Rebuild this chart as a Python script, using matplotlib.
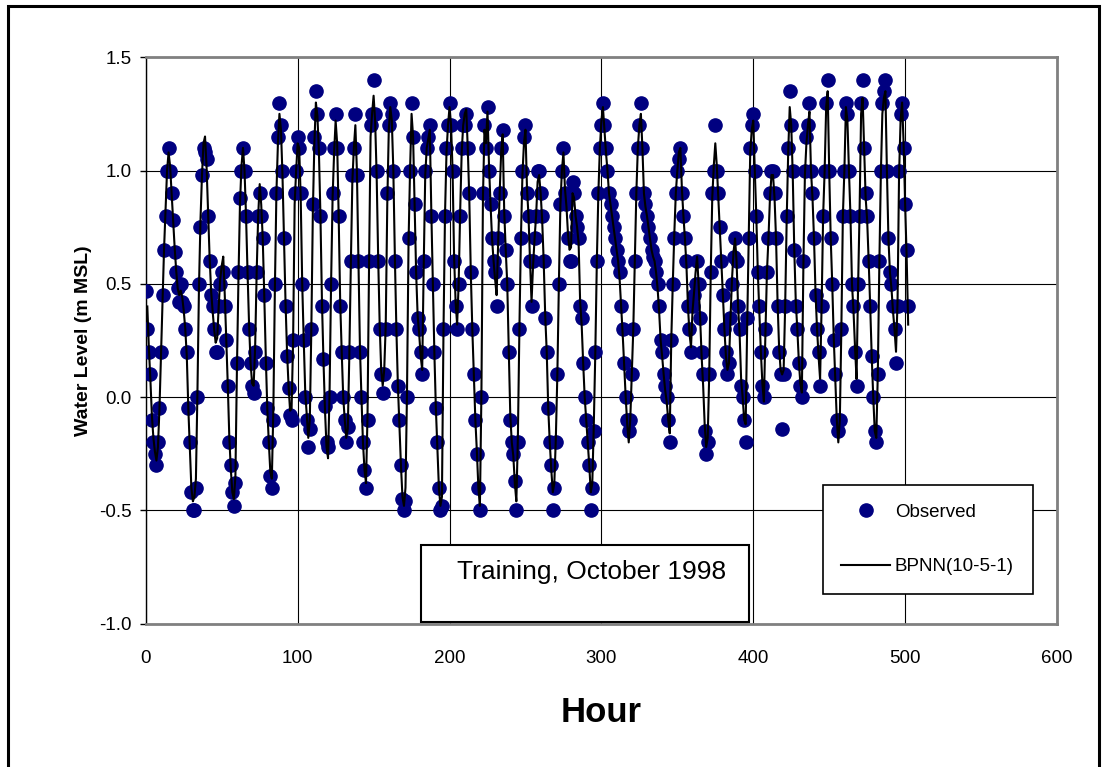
import numpy as np
import matplotlib
matplotlib.use("Agg")
import matplotlib.pyplot as plt
from matplotlib.patches import Rectangle

plt.rcParams['font.family'] = ['Liberation Sans', 'DejaVu Sans']
plt.rcParams['axes.unicode_minus'] = False

# ---------------- data ----------------
observed = [
    0.47, 0.30, 0.20, 0.10, -0.10, -0.20, -0.25, -0.30, -0.20, -0.05,
    0.20, 0.45, 0.65, 0.80, 1.00, 1.10, 1.00, 0.90, 0.78, 0.64,
    0.55, 0.48, 0.42, 0.50, 0.42, 0.40, 0.30, 0.20, -0.05, -0.20,
    -0.42, -0.50, -0.50, -0.40, 0.00, 0.50, 0.75, 0.98, 1.10, 1.08,
    1.05, 0.80, 0.60, 0.45, 0.40, 0.30, 0.20, 0.20, 0.40, 0.50,
    0.55, 0.55, 0.40, 0.25, 0.05, -0.20, -0.30, -0.42, -0.48, -0.38,
    0.15, 0.55, 0.88, 1.00, 1.10, 1.00, 0.80, 0.55, 0.30, 0.15,
    0.05, 0.02, 0.20, 0.55, 0.80, 0.90, 0.80, 0.70, 0.45, 0.15,
    -0.05, -0.20, -0.35, -0.40, -0.10, 0.50, 0.90, 1.15, 1.30, 1.20,
    1.00, 0.70, 0.40, 0.18, 0.04, -0.08, -0.10, 0.25, 0.90, 1.00,
    1.15, 1.10, 0.90, 0.50, 0.25, 0.00, -0.10, -0.22, -0.14, 0.30,
    0.85, 1.15, 1.35, 1.25, 1.10, 0.80, 0.40, 0.17, -0.04, -0.20,
    -0.22, 0.00, 0.50, 0.90, 1.10, 1.25, 1.10, 0.80, 0.40, 0.20,
    0.00, -0.10, -0.20, -0.13, 0.20, 0.60, 0.98, 1.10, 1.25, 0.98,
    0.60, 0.20, 0.00, -0.20, -0.32, -0.40, -0.10, 0.60, 1.20, 1.25,
    1.40, 1.25, 1.00, 0.60, 0.30, 0.10, 0.02, 0.10, 0.30, 0.90,
    1.20, 1.30, 1.25, 1.00, 0.60, 0.30, 0.05, -0.10, -0.30, -0.45,
    -0.50, -0.46, 0.00, 0.70, 1.00, 1.30, 1.15, 0.85, 0.55, 0.35,
    0.30, 0.20, 0.10, 0.60, 1.00, 1.10, 1.15, 1.20, 0.80, 0.50,
    0.20, -0.05, -0.20, -0.40, -0.50, -0.48, 0.30, 0.80, 1.10, 1.20,
    1.30, 1.20, 1.00, 0.60, 0.40, 0.30, 0.50, 0.80, 1.10, 1.20,
    1.20, 1.25, 1.10, 0.90, 0.55, 0.30, 0.10, -0.10, -0.25, -0.40,
    -0.50, 0.00, 0.90, 1.20, 1.10, 1.28, 1.00, 0.85, 0.70, 0.60,
    0.55, 0.40, 0.70, 0.90, 1.10, 1.18, 0.80, 0.65, 0.50, 0.20,
    -0.10, -0.20, -0.25, -0.37, -0.50, -0.20, 0.30, 0.70, 1.00, 1.15,
    1.20, 0.90, 0.80, 0.60, 0.40, 0.60, 0.70, 0.80, 1.00, 1.00,
    0.90, 0.80, 0.60, 0.35, 0.20, -0.05, -0.20, -0.30, -0.50, -0.40,
    -0.20, 0.10, 0.50, 0.85, 1.00, 1.10, 0.90, 0.85, 0.70, 0.60,
    0.60, 0.95, 0.90, 0.80, 0.75, 0.70, 0.40, 0.35, 0.15, 0.00,
    -0.10, -0.20, -0.30, -0.50, -0.40, -0.15, 0.20, 0.60, 0.90, 1.10,
    1.20, 1.30, 1.20, 1.10, 1.00, 0.90, 0.85, 0.80, 0.75, 0.70,
    0.65, 0.60, 0.55, 0.40, 0.30, 0.15, 0.00, -0.10, -0.15, -0.10,
    0.10, 0.30, 0.60, 0.90, 1.10, 1.20, 1.30, 1.10, 0.90, 0.85,
    0.80, 0.75, 0.70, 0.65, 0.62, 0.60, 0.55, 0.50, 0.40, 0.25,
    0.20, 0.10, 0.05, 0.00, -0.10, -0.20, 0.25, 0.50, 0.70, 0.90,
    1.00, 1.05, 1.10, 0.90, 0.80, 0.70, 0.60, 0.40, 0.30, 0.20,
    0.40, 0.45, 0.50, 0.60, 0.50, 0.35, 0.20, 0.10, -0.15, -0.25,
    -0.20, 0.10, 0.55, 0.90, 1.00, 1.20, 1.00, 0.90, 0.75, 0.60,
    0.45, 0.30, 0.20, 0.10, 0.15, 0.35, 0.50, 0.62, 0.70, 0.60,
    0.40, 0.30, 0.05, 0.00, -0.10, -0.20, 0.35, 0.70, 1.10, 1.20,
    1.25, 1.00, 0.80, 0.55, 0.40, 0.20, 0.05, 0.00, 0.30, 0.55,
    0.70, 0.90, 1.00, 1.00, 0.90, 0.70, 0.40, 0.20, 0.10, -0.14,
    0.10, 0.40, 0.80, 1.10, 1.35, 1.20, 1.00, 0.65, 0.40, 0.30,
    0.15, 0.05, 0.00, 0.60, 1.00, 1.15, 1.20, 1.30, 1.00, 0.90,
    0.70, 0.45, 0.30, 0.20, 0.05, 0.40, 0.80, 1.00, 1.30, 1.40,
    1.00, 0.70, 0.50, 0.25, 0.10, -0.10, -0.15, -0.10, 0.30, 0.80,
    1.00, 1.30, 1.25, 1.00, 0.80, 0.50, 0.40, 0.20, 0.05, 0.50,
    0.80, 1.30, 1.40, 1.10, 0.90, 0.80, 0.60, 0.40, 0.18, 0.00,
    -0.15, -0.20, 0.10, 0.60, 1.00, 1.30, 1.35, 1.40, 1.00, 0.70,
    0.55, 0.50, 0.40, 0.30, 0.15, 0.40, 1.00, 1.25, 1.30, 1.10,
    0.85, 0.65, 0.40,
]

predicted = [
    0.40, 0.22, 0.08, -0.08, -0.18, -0.24, -0.28, -0.22, -0.05,
    0.18, 0.42, 0.65, 0.82, 1.00, 1.08, 1.02, 0.90, 0.78, 0.66,
    0.56, 0.48, 0.45, 0.47, 0.44, 0.38, 0.30, 0.18, -0.05, -0.22,
    -0.40, -0.46, -0.44, -0.36, 0.02, 0.48, 0.78, 0.98, 1.12, 1.15,
    1.02, 0.82, 0.62, 0.47, 0.38, 0.30, 0.24, 0.26, 0.40, 0.52,
    0.58, 0.62, 0.45, 0.25, 0.05, -0.18, -0.32, -0.42, -0.45, -0.35,
    0.12, 0.52, 0.85, 1.02, 1.10, 1.00, 0.80, 0.55, 0.32, 0.15,
    0.06, 0.05, 0.22, 0.55, 0.80, 0.94, 0.85, 0.70, 0.45, 0.18,
    -0.05, -0.20, -0.33, -0.36, -0.05, 0.48, 0.90, 1.12, 1.25, 1.18,
    0.98, 0.70, 0.42, 0.20, 0.05, -0.06, -0.05, 0.25, 0.85, 1.00,
    1.12, 1.10, 0.88, 0.50, 0.25, 0.02, -0.08, -0.18, -0.10, 0.30,
    0.82, 1.12, 1.30, 1.24, 1.08, 0.80, 0.42, 0.16, -0.06, -0.22,
    -0.27, 0.02, 0.50, 0.88, 1.08, 1.22, 1.12, 0.80, 0.42, 0.20,
    0.00, -0.10, -0.18, -0.14, 0.18, 0.58, 0.95, 1.10, 1.20, 1.00,
    0.60, 0.22, 0.00, -0.20, -0.32, -0.38, -0.08, 0.58, 1.15, 1.25,
    1.33, 1.22, 0.98, 0.62, 0.32, 0.12, 0.05, 0.12, 0.32, 0.85,
    1.18, 1.28, 1.22, 1.00, 0.62, 0.30, 0.05, -0.12, -0.30, -0.44,
    -0.48, -0.40, 0.02, 0.68, 1.00, 1.25, 1.15, 0.85, 0.55, 0.36,
    0.28, 0.18, 0.12, 0.58, 0.98, 1.10, 1.14, 1.18, 0.82, 0.50,
    0.20, -0.05, -0.22, -0.40, -0.48, -0.44, 0.28, 0.80, 1.08, 1.20,
    1.28, 1.20, 1.00, 0.62, 0.42, 0.32, 0.50, 0.82, 1.08, 1.20,
    1.25, 1.27, 1.10, 0.88, 0.55, 0.30, 0.10, -0.10, -0.24, -0.40,
    -0.48, 0.02, 0.88, 1.18, 1.12, 1.26, 1.02, 0.85, 0.70, 0.60,
    0.52, 0.45, 0.68, 0.90, 1.08, 1.16, 0.82, 0.65, 0.50, 0.22,
    -0.08, -0.20, -0.26, -0.38, -0.46, -0.18, 0.30, 0.70, 0.98, 1.12,
    1.18, 0.92, 0.80, 0.60, 0.42, 0.58, 0.70, 0.80, 0.95, 0.98,
    0.90, 0.78, 0.60, 0.36, 0.20, -0.05, -0.20, -0.32, -0.42, -0.38,
    -0.18, 0.10, 0.50, 0.85, 1.00, 1.08, 0.92, 0.84, 0.72, 0.65,
    0.66, 0.90, 0.88, 0.80, 0.75, 0.68, 0.42, 0.32, 0.15, 0.00,
    -0.10, -0.20, -0.30, -0.42, -0.38, -0.12, 0.20, 0.60, 0.90, 1.10,
    1.22, 1.28, 1.18, 1.08, 1.00, 0.90, 0.85, 0.80, 0.75, 0.70,
    0.65, 0.60, 0.52, 0.40, 0.28, 0.14, 0.00, -0.12, -0.20, -0.10,
    0.10, 0.30, 0.60, 0.90, 1.10, 1.20, 1.25, 1.10, 0.90, 0.84,
    0.80, 0.75, 0.70, 0.65, 0.62, 0.60, 0.55, 0.48, 0.38, 0.25,
    0.18, 0.10, 0.03, -0.02, -0.10, -0.16, 0.25, 0.50, 0.72, 0.90,
    1.00, 1.08, 1.10, 0.92, 0.80, 0.70, 0.58, 0.40, 0.28, 0.22,
    0.38, 0.46, 0.55, 0.62, 0.50, 0.35, 0.18, 0.05, -0.12, -0.22,
    -0.18, 0.10, 0.55, 0.88, 1.02, 1.12, 1.02, 0.88, 0.75, 0.60,
    0.45, 0.30, 0.18, 0.12, 0.15, 0.35, 0.52, 0.64, 0.70, 0.60,
    0.40, 0.28, 0.08, 0.00, -0.10, -0.12, 0.32, 0.70, 1.08, 1.18,
    1.22, 1.00, 0.80, 0.55, 0.38, 0.20, 0.06, -0.02, 0.28, 0.55,
    0.70, 0.88, 0.98, 0.98, 0.88, 0.70, 0.42, 0.22, 0.12, 0.10,
    0.12, 0.40, 0.78, 1.08, 1.28, 1.20, 0.98, 0.65, 0.42, 0.30,
    0.16, 0.06, 0.02, 0.58, 0.98, 1.12, 1.20, 1.26, 1.00, 0.88,
    0.70, 0.46, 0.30, 0.18, 0.08, 0.40, 0.80, 1.00, 1.28, 1.35,
    1.00, 0.70, 0.50, 0.26, 0.08, -0.10, -0.20, -0.10, 0.30, 0.80,
    1.00, 1.28, 1.22, 1.00, 0.80, 0.50, 0.38, 0.22, 0.08, 0.48,
    0.82, 1.25, 1.32, 1.10, 0.88, 0.78, 0.60, 0.40, 0.18, 0.00,
    -0.15, -0.18, 0.10, 0.58, 0.98, 1.25, 1.32, 1.35, 1.00, 0.70,
    0.55, 0.48, 0.38, 0.30, 0.20, 0.42, 0.98, 1.22, 1.30, 1.12,
    0.85, 0.62, 0.32,
]

hours_obs = np.arange(len(observed))
hours_pred = np.arange(1, len(predicted) + 1)

x_ticks = [0, 100, 200, 300, 400, 500, 600]
y_ticks = [-1.0, -0.5, 0.0, 0.5, 1.0, 1.5]
series_labels = ["Observed", "BPNN(10-5-1)"]
title_text = "Training, October 1998"
x_label = "Hour"
y_label = "Water Level (m MSL)"

# ---------------- figure ----------------
W, H = 1104, 767
fig = plt.figure(figsize=(W / 100, H / 100), dpi=100)

def fx(px):
    return px / W

def fy(py):
    return 1 - py / H

L, R, T, B = 145.8, 1057.0, 57.2, 623.7
ax = fig.add_axes([fx(L), fy(B), fx(R) - fx(L), fy(T) - fy(B)])

obs_line, = ax.plot(hours_obs, observed, ls='none', marker='o', ms=9.5,
                    mfc='#000080', mec='#000080', zorder=3, label=series_labels[0])
pred_line, = ax.plot(hours_pred, predicted, color='black', lw=1.5, zorder=4,
                     label=series_labels[1])

ax.set_xlim(0, 600)
ax.set_ylim(-1.0, 1.5)
ax.set_xticks(x_ticks)
ax.set_yticks(y_ticks)
ax.set_yticklabels([f"{v:.1f}" for v in y_ticks])
ax.grid(True, color='black', lw=0.8)
ax.set_axisbelow(True)

ax.tick_params(axis='y', direction='out', length=4, width=1, pad=6, labelsize=13.5)
ax.tick_params(axis='x', length=0, pad=19, labelsize=13.5)

for side in ['top', 'right', 'bottom']:
    ax.spines[side].set_color('#808080')
    ax.spines[side].set_linewidth(2)
ax.spines['left'].set_color('black')
ax.spines['left'].set_linewidth(1)

ax.set_ylabel(y_label, fontsize=14, fontweight='bold')
ax.yaxis.label.set_va('center')
ax.yaxis.set_label_coords((83 - L) / (R - L), 0.5)
ax.set_xlabel(x_label, fontsize=25, fontweight='bold')
ax.xaxis.label.set_va('center')
ax.xaxis.set_label_coords(0.5, -(712 - B) / (B - T))

# annotation box
box = Rectangle((fx(421), fy(622)), fx(749) - fx(421), fy(545) - fy(622),
                transform=fig.transFigure, facecolor='white', edgecolor='black',
                lw=1.5, zorder=5)
fig.patches.append(box)
fig.text(fx(457), fy(572), title_text, fontsize=19, ha='left', va='center', zorder=6)

# legend
leg = fig.legend(handles=[obs_line, pred_line], loc='upper left',
                 bbox_to_anchor=(fx(822.7), fy(484.7)), borderaxespad=0,
                 fontsize=13.5, frameon=True, fancybox=False, framealpha=1,
                 edgecolor='black', borderpad=1.0, labelspacing=2.0,
                 handlelength=2.6, handletextpad=0.25, numpoints=1)
leg.get_frame().set_linewidth(1.2)
leg.set_zorder(7)

# outer border
outer = Rectangle((fx(8), fy(772)), fx(1099) - fx(8), fy(6) - fy(772),
                  transform=fig.transFigure, facecolor='none', edgecolor='black',
                  lw=2.2, zorder=10)
fig.patches.append(outer)

fig.savefig("out.png", dpi=100)
